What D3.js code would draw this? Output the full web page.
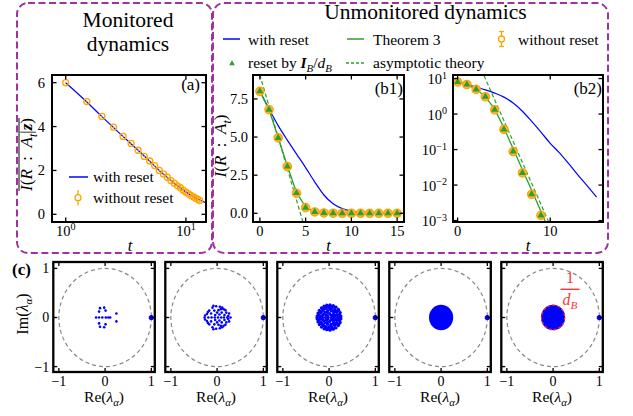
<!DOCTYPE html>
<html>
<head>
<meta charset="utf-8">
<script src="https://cdn.jsdelivr.net/npm/d3@7"></script>
<style>
  body { margin: 0; background: #fff; }
  svg { display: block; }
</style>
</head>
<body>
<svg id="fig" width="633" height="416"></svg>
<script>
// ---------------- data ----------------
// (a) monitored dynamics, averaged mutual information vs t (log x)
const monT = [1,1.5,2,2.5,3,3.5,4,4.5,5,5.5,6,6.5,7,7.5,8,8.5,9,9.5,10,10.5,11,11.5,12,12.5,13];
const monNoReset = [6.0,5.14,4.46,3.97,3.55,3.23,2.92,2.64,2.43,2.22,2.0,1.84,1.69,1.54,1.42,1.30,1.21,1.10,1.01,0.94,0.86,0.80,0.74,0.69,0.63];
const monNoResetErr = [0.02,0.03,0.03,0.03,0.03,0.03,0.03,0.03,0.03,0.03,0.03,0.03,0.02,0.02,0.02,0.02,0.02,0.02,0.02,0.02,0.02,0.02,0.02,0.02,0.02];
const monResetT = [1,1.5,2,3,4,5,6,7,8,9,10,11,12,13,14,14.7];
const monReset = [6.0,5.12,4.45,3.55,2.92,2.42,2.0,1.68,1.42,1.2,1.02,0.87,0.75,0.65,0.57,0.53];

// (b1)/(b2) unmonitored dynamics, I(R:A_t) vs t
const unT = [0,1,2,3,4,5,6,7,8,9,10,11,12,13,14,15];
const unReset = [8.0,6.85,5.75,4.8,3.9,3.0,2.05,1.2,0.62,0.31,0.15,0.081,0.040,0.019,0.0095,0.0046];
const unNoReset = [8.0,6.8,4.95,3.07,1.32,0.37,0.088,0.022,0.0055,0.0014,0.00034,0.000085,0.000021,0.0000053,0.0000013,0.00000033];
const unResetIB = [8.0,6.8,4.95,3.07,1.33,0.37,0.089,0.022,0.0055,0.0014,0.00035,0.000087,0.000022,0.0000054,0.0000014,0.00000034];
const unTheorem = [8.0,6.8,4.97,3.1,1.38,0.41,0.105,0.027,0.0071,0.0018,0.00046,0.00012,0.00003,0.0000077,0.000002,0.0000005];
const asymLinT = [-1, 6], asymLinV = [11.13, -3.22];
const asymLogT = [2, 11], asymLogV = [38.2, 0.00019];

// tick values
const ticksAx = [1, 10], ticksAy = [0, 2, 4, 6];
const ticksB1x = [0, 5, 10, 15], ticksB1y = [0, 2.5, 5, 7.5];
const ticksB2x = [0, 10], ticksB2y = [1e-3, 1e-2, 1e-1, 1, 10];
const ticksC = [-1, 0, 1];

// (c) channel spectra: eigenvalues in the upper half plane (conjugates added when drawn)
const eig1 = [[-0.11,0.19],[-0.02,0.20],[-0.13,0.12],[0.01,0.14],[0.245,0.08],
  [-0.195,0],[-0.13,0],[-0.06,0],[0.015,0],[0.07,0],[0.11,0]];
const eig2 = [[0.24,0.03],[0.2,0.1],[0.14,0.17],[0.06,0.22],[-0.02,0.23],[-0.1,0.2],[-0.17,0.14],
  [-0.22,0.07],[0.16,0.05],[0.1,0.1],[0.03,0.15],[-0.06,0.14],[-0.13,0.08],[0.05,0.06],[-0.04,0.05],
  [0.18,0.15],[-0.08,0.24],[0.11,0.2],[-0.2,0.11],[0.26,0.08],[-0.26,0.04],[0.0,0.1],[0.08,0.17],
  [-0.27,0],[-0.19,0],[-0.12,0],[-0.05,0],[0.02,0],[0.09,0],[0.15,0],[0.22,0],[0.29,0]];
const eig3 = [[0.255,0.03],[0.24,0.10],[0.2,0.165],[0.15,0.21],[0.09,0.24],[0.02,0.258],[-0.05,0.25],
  [-0.11,0.23],[-0.165,0.195],[-0.21,0.145],[-0.24,0.09],[-0.258,0.03],
  [0.2,0.05],[0.17,0.11],[0.12,0.16],[0.06,0.19],[-0.01,0.2],[-0.07,0.185],[-0.13,0.15],[-0.18,0.09],[-0.2,0.03],
  [0.135,0.04],[0.1,0.1],[0.04,0.135],[-0.03,0.14],[-0.09,0.11],[-0.135,0.05],
  [0.07,0.04],[0.01,0.08],[-0.06,0.055],
  [0.225,0.065],[0.18,0.14],[0.12,0.21],[0.05,0.225],[-0.02,0.23],[-0.08,0.22],[-0.145,0.18],[-0.19,0.12],
  [-0.23,0.06],[0.21,0.14],[0.16,0.06],[0.08,0.13],[-0.04,0.105],[-0.11,0.07],[0.03,0.17],[-0.16,0.12],
  [0.14,0.12],[-0.1,0.18],[0.22,0.02],[0.1,0.025],[-0.03,0.03],[-0.17,0.02],[0.04,0.05],[0.09,0.06],
  [-0.26,0],[-0.2,0],[-0.14,0],[-0.08,0],[-0.02,0],[0.05,0],[0.11,0],[0.18,0],[0.25,0]];
const bulkRadius = [0, 0, 0, 0.262, 0.262];
const stationary = [1, 0];
const dB = 4;

// ---------------- helpers ----------------
const svg = d3.select('#fig');
const FONT = 'Liberation Serif';
const BLUE = '#0000ff', ORANGE = '#ffa500', GREEN = '#2ca02c', PURPLE = '#a0329f';

function rich(parent, x, y, parts, opt = {}) {
  const size = opt.size || 15.5;
  const t = parent.append('text').attr('x', x).attr('y', y)
    .attr('font-size', size).attr('text-anchor', opt.anchor || 'start')
    .attr('fill', opt.fill || '#000');
  let shift = 0;
  parts.forEach(p0 => {
    const p = typeof p0 === 'string' ? { t: p0 } : p0;
    const s = t.append('tspan').text(p.t);
    const target = p.sub ? size * 0.28 : p.sup ? -size * 0.38 : 0;
    if (target !== shift) { s.attr('dy', target - shift); shift = target; }
    if (p.i) s.attr('font-style', 'italic');
    if (p.b) s.attr('font-weight', 'bold');
    if (p.sub || p.sup) s.attr('font-size', size * 0.7);
  });
  return t;
}

function frame(g, x0, y0, x1, y1, lw) {
  g.append('rect').attr('x', x0).attr('y', y0).attr('width', x1 - x0).attr('height', y1 - y0)
    .attr('fill', 'none').attr('stroke', '#000').attr('stroke-width', lw);
}

function ticks(g, xs, ys, xv, yv, len) {
  const [x0, x1] = xs.range(), [y1, y0] = ys.range();
  xv.forEach(v => {
    const x = xs(v);
    g.append('line').attr('x1', x).attr('x2', x).attr('y1', y1).attr('y2', y1 - len);
    g.append('line').attr('x1', x).attr('x2', x).attr('y1', y0).attr('y2', y0 + len);
  });
  yv.forEach(v => {
    const y = ys(v);
    g.append('line').attr('x1', x0).attr('x2', x0 + len).attr('y1', y).attr('y2', y);
    g.append('line').attr('x1', x1).attr('x2', x1 - len).attr('y1', y).attr('y2', y);
  });
  g.selectAll('line').attr('stroke', '#000').attr('stroke-width', 1.3);
}

function clipRect(id, x0, y0, x1, y1) {
  svg.append('clipPath').attr('id', id).append('rect')
    .attr('x', x0).attr('y', y0).attr('width', x1 - x0).attr('height', y1 - y0);
  return `url(#${id})`;
}

const tickFont = 14.5;
const fmtNum = v => (v < 0 ? '\u2212' : '') + Math.abs(v);
const SP = '\u2002';

// ---------------- group boxes ----------------
svg.append('rect').attr('x', 17).attr('y', 3).attr('width', 195).attr('height', 250).attr('rx', 11)
  .attr('fill', 'none').attr('stroke', PURPLE).attr('stroke-width', 2).attr('stroke-dasharray', '7,3.5');
svg.append('rect').attr('x', 213).attr('y', 3).attr('width', 395).attr('height', 250).attr('rx', 11)
  .attr('fill', 'none').attr('stroke', PURPLE).attr('stroke-width', 2).attr('stroke-dasharray', '7,3.5');

svg.append('text').attr('x', 128).attr('y', 27).attr('text-anchor', 'middle').attr('font-size', 21.5).text('Monitored');
svg.append('text').attr('x', 128).attr('y', 51).attr('text-anchor', 'middle').attr('font-size', 21.5).text('dynamics');
svg.append('text').attr('x', 425.5).attr('y', 19).attr('text-anchor', 'middle').attr('font-size', 21.5).text('Unmonitored dynamics');

// ---------------- panel (a) ----------------
{
  const L = 52, R = 206, T = 75, B = 222;
  const x = d3.scaleLog().domain([0.769, 14.69]).range([L, R]);
  const y = d3.scaleLinear().domain([-0.35, 6.35]).range([B, T]);
  const g = svg.append('g');
  const cp = clipRect('clipA', L, T, R, B);
  const pg = g.append('g').attr('clip-path', cp);
  pg.append('path').datum(monResetT.map((t, i) => [t, monReset[i]]))
    .attr('d', d3.line().x(d => x(d[0])).y(d => y(d[1])).curve(d3.curveMonotoneX))
    .attr('fill', 'none').attr('stroke', BLUE).attr('stroke-width', 1.2);
  monT.forEach((t, i) => {
    pg.append('line').attr('x1', x(t)).attr('x2', x(t))
      .attr('y1', y(monNoReset[i] - monNoResetErr[i])).attr('y2', y(monNoReset[i] + monNoResetErr[i]))
      .attr('stroke', ORANGE).attr('stroke-width', 1.2);
    pg.append('circle').attr('cx', x(t)).attr('cy', y(monNoReset[i])).attr('r', 3)
      .attr('fill', 'none').attr('stroke', ORANGE).attr('stroke-width', 1.3);
  });
  frame(g, L, T, R, B, 2);
  ticks(g.append('g'), x, y, ticksAx, ticksAy, 4.5);
  ticksAy.forEach(v => g.append('text').attr('x', L - 7).attr('y', y(v) + 5)
    .attr('text-anchor', 'end').attr('font-size', tickFont).text(fmtNum(v)));
  ticksAx.forEach(v => rich(g, x(v), 236, ['10', { t: String(Math.round(Math.log10(v))), sup: true }],
    { size: tickFont, anchor: 'middle' }));
  g.append('text').attr('x', 200).attr('y', 90).attr('text-anchor', 'end').attr('font-size', 17).text('(a)');
  // axis labels
  rich(g, 130, 251, [{ t: 't', i: true }], { size: 16.5, anchor: 'middle' });
  const yl = g.append('g').attr('transform', 'translate(32,154.5) rotate(-90)');
  const ylt = rich(yl, 0, 0, [{ t: 'I', i: true }, '(', { t: 'R', i: true }, SP + ':' + SP, { t: 'A', i: true },
    { t: 't', i: true, sub: true }, '|', { t: 'z', i: true, b: true }, ')'], { size: 17, anchor: 'middle' });
  ylt.attr('font-family', FONT);
  const len = ylt.node().getComputedTextLength();
  yl.append('line').attr('x1', -len / 2).attr('x2', len / 2).attr('y1', -13).attr('y2', -13)
    .attr('stroke', '#000').attr('stroke-width', 1);
  // legend
  g.append('line').attr('x1', 69).attr('x2', 88).attr('y1', 177).attr('y2', 177)
    .attr('stroke', BLUE).attr('stroke-width', 1.5);
  g.append('text').attr('x', 93).attr('y', 182).attr('font-size', 15.5).text('with reset');
  g.append('line').attr('x1', 78).attr('x2', 78).attr('y1', 190).attr('y2', 205.5)
    .attr('stroke', ORANGE).attr('stroke-width', 1.3);
  g.append('circle').attr('cx', 78).attr('cy', 197.7).attr('r', 3)
    .attr('fill', '#fff').attr('stroke', ORANGE).attr('stroke-width', 1.3);
  g.append('text').attr('x', 93).attr('y', 203).attr('font-size', 15.5).text('without reset');
}

// ---------------- panels (b1), (b2) ----------------
function unPanel(id, L, R, x, y, xv, yv, yTickText, label, asymT, asymV) {
  const T = 75, B = 222;
  const g = svg.append('g');
  const pg = g.append('g').attr('clip-path', clipRect(id, L, T, R, B));
  const line = d3.line().x(d => x(d[0])).y(d => y(d[1]));
  pg.append('path').datum(unT.map((t, i) => [t, unReset[i]]))
    .attr('d', line.curve(d3.curveMonotoneX)).attr('fill', 'none').attr('stroke', BLUE).attr('stroke-width', 1.2);
  pg.append('path').datum(asymT.map((t, i) => [t, asymV[i]]))
    .attr('d', line.curve(d3.curveLinear)).attr('fill', 'none').attr('stroke', GREEN)
    .attr('stroke-width', 1.2).attr('stroke-dasharray', '4,2.5');
  pg.append('path').datum(unT.map((t, i) => [t, unTheorem[i]]))
    .attr('d', line.curve(d3.curveLinear)).attr('fill', 'none').attr('stroke', GREEN).attr('stroke-width', 1.3);
  unT.forEach((t, i) => {
    pg.append('circle').attr('cx', x(t)).attr('cy', y(unNoReset[i])).attr('r', 4.2)
      .attr('fill', '#f8b236').attr('stroke', ORANGE).attr('stroke-width', 1.2);
  });
  unT.forEach((t, i) => {
    pg.append('path').attr('d', d3.symbol(d3.symbolTriangle, 22)())
      .attr('transform', `translate(${x(t)},${y(unResetIB[i])})`).attr('fill', GREEN);
  });
  frame(g, L, T, R, B, 2);
  ticks(g.append('g'), x, y, xv, yv, 4.5);
  xv.forEach(v => g.append('text').attr('x', x(v)).attr('y', 236).attr('text-anchor', 'middle')
    .attr('font-size', tickFont).text(fmtNum(v)));
  yv.forEach(v => yTickText(g, L - 5, y(v) + 5, v));
  g.append('text').attr('x', R - 1).attr('y', 93.5).attr('text-anchor', 'end').attr('font-size', 17).text(label);
  rich(g, (L + R) / 2, 251, [{ t: 't', i: true }], { size: 16.5, anchor: 'middle' });
  return g;
}

{
  const x = d3.scaleLinear().domain([-0.75, 15.75]).range([253, 404]);
  const y = d3.scaleLinear().domain([-0.57, 9.07]).range([222, 75]);
  const g = unPanel('clipB1', 253, 404, x, y, ticksB1x, ticksB1y,
    (g, xx, yy, v) => g.append('text').attr('x', xx).attr('y', yy).attr('text-anchor', 'end')
      .attr('font-size', tickFont).text(v.toFixed(1)),
    '(b1)', asymLinT, asymLinV);
  const yl = g.append('g').attr('transform', 'translate(226,146) rotate(-90)');
  rich(yl, 0, 0, [{ t: 'I', i: true }, '(', { t: 'R', i: true }, SP + ':' + SP, { t: 'A', i: true },
    { t: 't', i: true, sub: true }, ')'], { size: 17, anchor: 'middle' });
}
{
  const x = d3.scaleLinear().domain([-0.5, 15.7]).range([453, 603]);
  const y = d3.scaleLog().domain([10 ** -3.04, 10 ** 1.1]).range([222, 75]);
  unPanel('clipB2', 453, 603, x, y, ticksB2x, ticksB2y,
    (g, xx, yy, v) => rich(g, xx - 1, yy + 0.5, ['10', { t: fmtNum(Math.round(Math.log10(v))), sup: true }],
      { size: tickFont, anchor: 'end' }),
    '(b2)', asymLogT, asymLogV);
}

// legend for (b)
{
  const g = svg.append('g');
  g.append('line').attr('x1', 223).attr('x2', 240).attr('y1', 39).attr('y2', 39).attr('stroke', BLUE).attr('stroke-width', 1.5);
  g.append('text').attr('x', 248).attr('y', 44.5).attr('font-size', 15.5).text('with reset');
  g.append('line').attr('x1', 347).attr('x2', 364).attr('y1', 39).attr('y2', 39).attr('stroke', GREEN).attr('stroke-width', 1.5);
  g.append('text').attr('x', 373).attr('y', 44.5).attr('font-size', 15.5).text('Theorem 3');
  g.append('line').attr('x1', 501.5).attr('x2', 501.5).attr('y1', 31.5).attr('y2', 46.5).attr('stroke', ORANGE).attr('stroke-width', 1.3);
  [31.5, 46.5].forEach(yy => g.append('line').attr('x1', 499).attr('x2', 504).attr('y1', yy).attr('y2', yy)
    .attr('stroke', ORANGE).attr('stroke-width', 1.3));
  g.append('circle').attr('cx', 501.5).attr('cy', 39).attr('r', 3).attr('fill', '#fff').attr('stroke', ORANGE).attr('stroke-width', 1.3);
  g.append('text').attr('x', 518).attr('y', 44.5).attr('font-size', 15.5).text('without reset');
  g.append('path').attr('d', d3.symbol(d3.symbolTriangle, 14)()).attr('transform', 'translate(232,63.5)').attr('fill', GREEN);
  rich(g, 248, 67.5, ['reset by ', { t: 'I', i: true, b: true }, { t: 'B', i: true, sub: true }, '/',
    { t: 'd', i: true }, { t: 'B', i: true, sub: true }], { size: 15.5 });
  g.append('line').attr('x1', 346).attr('x2', 366).attr('y1', 63).attr('y2', 63).attr('stroke', GREEN)
    .attr('stroke-width', 1.3).attr('stroke-dasharray', '3,2');
  g.append('text').attr('x', 373).attr('y', 67.5).attr('font-size', 15.5).text('asymptotic theory');
}

// ---------------- row (c): spectra ----------------
{
  const lefts = [53.3, 165.3, 277.3, 389.3, 501.3];
  const W = 101.5, T = 262, B = 372;
  const spectra = [eig1, eig2, eig3, [], []];
  lefts.forEach((L, k) => {
    const g = svg.append('g');
    const x = d3.scaleLinear().domain([-1.12, 1.075]).range([L, L + W]);
    const y = d3.scaleLinear().domain([-1.11, 1.13]).range([B, T]);
    const kx = x(1) - x(0), ky = y(0) - y(1);
    g.append('ellipse').attr('cx', x(0)).attr('cy', y(0)).attr('rx', kx).attr('ry', ky)
      .attr('fill', 'none').attr('stroke', '#888').attr('stroke-width', 1.2).attr('stroke-dasharray', '4,3');
    if (bulkRadius[k] > 0) {
      g.append('ellipse').attr('cx', x(0)).attr('cy', y(0)).attr('rx', bulkRadius[k] * kx)
        .attr('ry', bulkRadius[k] * ky).attr('fill', BLUE);
    }
    const pts = spectra[k].flatMap(([re, im]) => im === 0 ? [[re, im]] : [[re, im], [re, -im]]);
    g.selectAll('circle.ev').data(pts).join('circle').attr('class', 'ev')
      .attr('cx', d => x(d[0])).attr('cy', d => y(d[1])).attr('r', k === 2 ? 1.6 : 1.3).attr('fill', BLUE);
    g.append('circle').attr('cx', x(stationary[0])).attr('cy', y(stationary[1])).attr('r', 2.6).attr('fill', BLUE);
    if (k === 4) {
      g.append('ellipse').attr('cx', x(0)).attr('cy', y(0)).attr('rx', kx / dB).attr('ry', ky / dB)
        .attr('fill', 'none').attr('stroke', '#ff2a2a').attr('stroke-width', 1.3).attr('stroke-dasharray', '3,2');
      g.append('text').attr('x', 570).attr('y', 283).attr('text-anchor', 'middle').attr('font-size', 16)
        .attr('fill', '#ff3333').text('1');
      g.append('line').attr('x1', 560.5).attr('x2', 579.5).attr('y1', 289.3).attr('y2', 289.3)
        .attr('stroke', '#ff3333').attr('stroke-width', 1.4);
      rich(g, 570, 305, [{ t: 'd', i: true }, { t: 'B', i: true, sub: true }],
        { size: 16, anchor: 'middle', fill: '#ff3333' });
    }
    frame(g, L, T, L + W, B, 2.3);
    ticks(g.append('g'), x, y, ticksC, ticksC, 4);
    ticksC.forEach(v => g.append('text').attr('x', x(v)).attr('y', 385.5).attr('text-anchor', 'middle')
      .attr('font-size', 14).text(fmtNum(v)));
    if (k === 0) {
      ticksC.forEach(v => g.append('text').attr('x', L - 4).attr('y', y(v) + 5).attr('text-anchor', 'end')
        .attr('font-size', 14).text(fmtNum(v)));
    }
    rich(g, L + W / 2, 401.5, ['Re(', { t: '\u03bb', i: true }, { t: '\u03b1', i: true, sub: true }, ')'],
      { size: 15.5, anchor: 'middle' });
  });
  const yl = svg.append('g').attr('transform', 'translate(28,314) rotate(-90)');
  rich(yl, 0, 0, ['Im(', { t: '\u03bb', i: true }, { t: '\u03b1', i: true, sub: true }, ')'], { size: 16, anchor: 'middle' });
  svg.append('text').attr('x', 12).attr('y', 275).attr('font-size', 17).attr('font-weight', 'bold').text('(c)');
}

// every label uses the serif face
svg.selectAll('text').attr('font-family', FONT);
</script>
</body>
</html>
